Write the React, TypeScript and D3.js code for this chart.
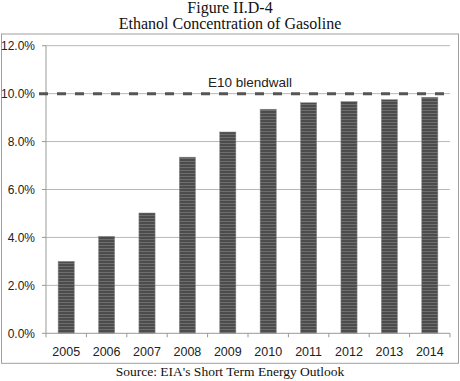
import React from "react";
import * as d3 from "d3";

const years = ["2005", "2006", "2007", "2008", "2009", "2010", "2011", "2012", "2013", "2014"];
const concentration = [3.0, 4.05, 5.02, 7.35, 8.4, 9.35, 9.62, 9.67, 9.75, 9.85];
const yTicks = [0, 2, 4, 6, 8, 10, 12];
const blendwall = 10;
const blendwallLabel = "E10 blendwall";
const titleLines = ["Figure II.D-4", "Ethanol Concentration of Gasoline"];
const sourceText = "Source: EIA's Short Term Energy Outlook";

export default function App() {
  const W = 460, H = 381;
  const left = 46, right = 450, top = 45.7, bottom = 333.3;
  const x = d3.scaleBand<string>().domain(years).range([left, right]).paddingInner(0.6).paddingOuter(0.3);
  const xb = d3.scaleBand<string>().domain(years).range([left, right]);
  const y = d3.scaleLinear().domain([0, 12]).range([bottom, top]);
  const sans = "'Liberation Sans', Arial, sans-serif";
  const serif = "'Liberation Serif', 'Times New Roman', serif";
  return (
    <svg width={W} height={H} style={{ position: "absolute", left: 0, top: 0 }}>
      <defs>
        <pattern id="stripes" width="4" height="3" patternUnits="userSpaceOnUse">
          <rect width="4" height="3" fill="#4c4c4c" />
          <rect y="2" width="4" height="1" fill="#6e6e6e" />
        </pattern>
      </defs>
      <rect width={W} height={H} fill="#fff" />
      {titleLines.map((t, i) => (
        <text key={t} x={230} y={12.5 + i * 16.7} textAnchor="middle" fontFamily={serif} fontSize={16} fill="#111">
          {t}
        </text>
      ))}
      <rect x={1.5} y={34} width={457} height={329.3} fill="none" stroke="#a0a0a0" strokeWidth={1} />
      {yTicks.map((t) => (
        <g key={t}>
          {t > 0 && <line x1={left} x2={right} y1={y(t)} y2={y(t)} stroke="#b8b8b8" strokeWidth={1} />}
          <line x1={left - 4} x2={left} y1={y(t)} y2={y(t)} stroke="#999" strokeWidth={1} />
          <text x={35} y={y(t)} dy="0.35em" textAnchor="end" fontFamily={sans} fontSize={12} fill="#222">
            {t.toFixed(1)}%
          </text>
        </g>
      ))}
      <line x1={left} x2={left} y1={top} y2={bottom} stroke="#999" strokeWidth={1} />
      {years.map((yr, i) => (
        <rect
          key={yr}
          x={x(yr)}
          y={y(concentration[i])}
          width={x.bandwidth()}
          height={bottom - y(concentration[i])}
          fill="url(#stripes)"
          stroke="#8a8a8a"
          strokeWidth={0.5}
        />
      ))}
      <line x1={left} x2={right} y1={bottom} y2={bottom} stroke="#999" strokeWidth={1} />
      {years.concat(["end"]).map((yr, i) => {
        const xx = left + i * xb.bandwidth();
        return <line key={yr} x1={xx} x2={xx} y1={bottom} y2={bottom + 4} stroke="#999" strokeWidth={1} />;
      })}
      {years.map((yr) => (
        <text key={yr} x={(xb(yr) as number) + xb.bandwidth() / 2} y={356} textAnchor="middle" fontFamily={sans} fontSize={12.5} fill="#222">
          {yr}
        </text>
      ))}
      <line x1={39} x2={right} y1={y(blendwall)} y2={y(blendwall)} stroke="#555" strokeWidth={3} strokeDasharray="9,9" />
      <text x={208} y={86.5} fontFamily={sans} fontSize={13.5} fill="#222">
        {blendwallLabel}
      </text>
      <text x={230} y={376} textAnchor="middle" fontFamily={serif} fontSize={13.5} fill="#111">
        {sourceText}
      </text>
    </svg>
  );
}
